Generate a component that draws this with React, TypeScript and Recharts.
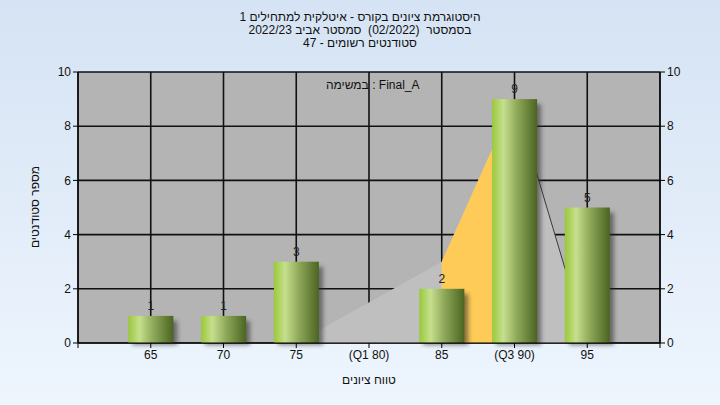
import {
  ComposedChart,
  Bar,
  Area,
  XAxis,
  YAxis,
  CartesianGrid,
  LabelList
} from "recharts";

// histogram bins and counts
const scores = [65, 70, 75, 80, 85, 90, 95];
const counts = [1, 1, 3, 0, 2, 9, 5];
const tickLabels = ["", "65", "70", "75", "(Q1 80)", "85", "(Q3 90)", "95", ""];
const xTicks = [60, 65, 70, 75, 80, 85, 90, 95, 100];
const yTicks = [0, 2, 4, 6, 8, 10];

// background distribution shape
const shapeX = [75, 85, 90, 95];
const shapeY = [0, 3, 9, 0];
// quartile band (orange)
const bandX = [85, 90];
const bandY = [3, 9];

const titleLines = [
  "היסטוגרמת ציונים בקורס - איטלקית למתחילים 1",
  "בסמסטר  (02/2022)  סמסטר אביב 2022/23",
  "סטודנטים רשומים - 47"
];

const barData = scores.map((s, i) => ({ score: s, count: counts[i] }));
const shapeData = shapeX.map((x, i) => ({ score: x, v: shapeY[i] }));
const bandData = bandX.map((x, i) => ({ score: x, v: bandY[i] }));
const edgeData = shapeData.slice(2);

const FONT = "'Liberation Sans', 'DejaVu Sans', Arial, sans-serif";

const GreenBar = (props: any) => {
  const { x, y, width, height } = props;
  if (!height || height <= 0) return null;
  return (
    <g>
      <rect
        x={x + 4}
        y={y + 5}
        width={width}
        height={height - 3}
        fill="#2a2a2a"
        opacity={0.55}
        filter="url(#barShadow)"
      />
      <rect x={x} y={y} width={width} height={height} fill="url(#barGrad)" />
    </g>
  );
};

export default function App() {
  const tickStyle = { fontSize: 12, fill: "#111", fontFamily: FONT };
  return (
    <div
      style={{
        position: "relative",
        width: 720,
        height: 405,
        background: "linear-gradient(to bottom, #d5e3f4, #eef5fd)",
        fontFamily: FONT,
        overflow: "hidden"
      }}
    >
      <style>{"body{margin:0}"}</style>
      <div
        style={{
          position: "absolute",
          top: 11,
          left: 0,
          width: 720,
          textAlign: "center",
          fontSize: 12,
          lineHeight: "13px",
          color: "#111",
          direction: "rtl",
          whiteSpace: "pre"
        }}
      >
        {titleLines.map((t, i) => (
          <div key={i}>{t}</div>
        ))}
      </div>
      <ComposedChart
        width={720}
        height={405}
        data={barData}
        margin={{ top: 72, right: 0, bottom: 32, left: 0 }}
        style={{ position: "absolute", top: 0, left: 0 }}
      >
        <defs>
          <linearGradient id="barGrad" x1="0" y1="0" x2="1" y2="0">
            <stop offset="0%" stopColor="#9ac93a" />
            <stop offset="25%" stopColor="#c6df8e" />
            <stop offset="55%" stopColor="#8fa95a" />
            <stop offset="100%" stopColor="#4b6421" />
          </linearGradient>
          <filter id="barShadow" x="-30%" y="-30%" width="160%" height="160%">
            <feGaussianBlur stdDeviation="2" />
          </filter>
        </defs>
        <CartesianGrid
          yAxisId="left"
          stroke="#111"
          strokeWidth={1.6}
          fill="#b4b4b4"
          fillOpacity={1}
        />
        <XAxis
          dataKey="score"
          type="number"
          domain={[60, 100]}
          ticks={xTicks}
          interval={0}
          tickFormatter={(v: number) => tickLabels[xTicks.indexOf(v)]}
          tick={tickStyle}
          stroke="#000"
          tickSize={5}
          height={30}
        />
        <YAxis
          yAxisId="left"
          domain={[0, 10]}
          ticks={yTicks}
          tick={tickStyle}
          stroke="#000"
          tickSize={5}
          width={78}
        />
        <YAxis
          yAxisId="right"
          orientation="right"
          domain={[0, 10]}
          ticks={yTicks}
          tick={tickStyle}
          stroke="#000"
          tickSize={5}
          width={60}
        />
        <Area
          yAxisId="left"
          data={shapeData}
          dataKey="v"
          type="linear"
          fill="#bfbfbf"
          fillOpacity={1}
          stroke="none"
          isAnimationActive={false}
        />
        <Area
          yAxisId="left"
          data={bandData}
          dataKey="v"
          type="linear"
          fill="#fecb58"
          fillOpacity={1}
          stroke="none"
          isAnimationActive={false}
        />
        <Area
          yAxisId="right"
          data={edgeData}
          dataKey="v"
          type="linear"
          fill="none"
          fillOpacity={0}
          stroke="#3a3a3a"
          strokeWidth={1}
          dot={false}
          activeDot={false}
          isAnimationActive={false}
        />
        <Bar
          yAxisId="left"
          dataKey="count"
          barSize={45}
          shape={GreenBar}
          isAnimationActive={false}
        >
          <LabelList
            dataKey="count"
            position="top"
            offset={6}
            formatter={(v: number) => (v > 0 ? v : "")}
            style={{ fontSize: 12, fill: "#222", fontFamily: FONT }}
          />
        </Bar>
      </ComposedChart>
      <div
        style={{
          position: "absolute",
          left: 326,
          top: 78,
          fontSize: 12,
          color: "#111"
        }}
      >
        במשימה : Final_A
      </div>
      <div
        style={{
          position: "absolute",
          left: 269,
          width: 200,
          top: 373,
          textAlign: "center",
          fontSize: 12,
          color: "#111",
          direction: "rtl"
        }}
      >
        טווח ציונים
      </div>
      <div
        style={{
          position: "absolute",
          left: 35,
          top: 207,
          fontSize: 12,
          color: "#111",
          transform: "translate(-50%, -50%) rotate(-90deg)",
          whiteSpace: "nowrap",
          direction: "rtl"
        }}
      >
        מספר סטודנטים
      </div>
    </div>
  );
}
